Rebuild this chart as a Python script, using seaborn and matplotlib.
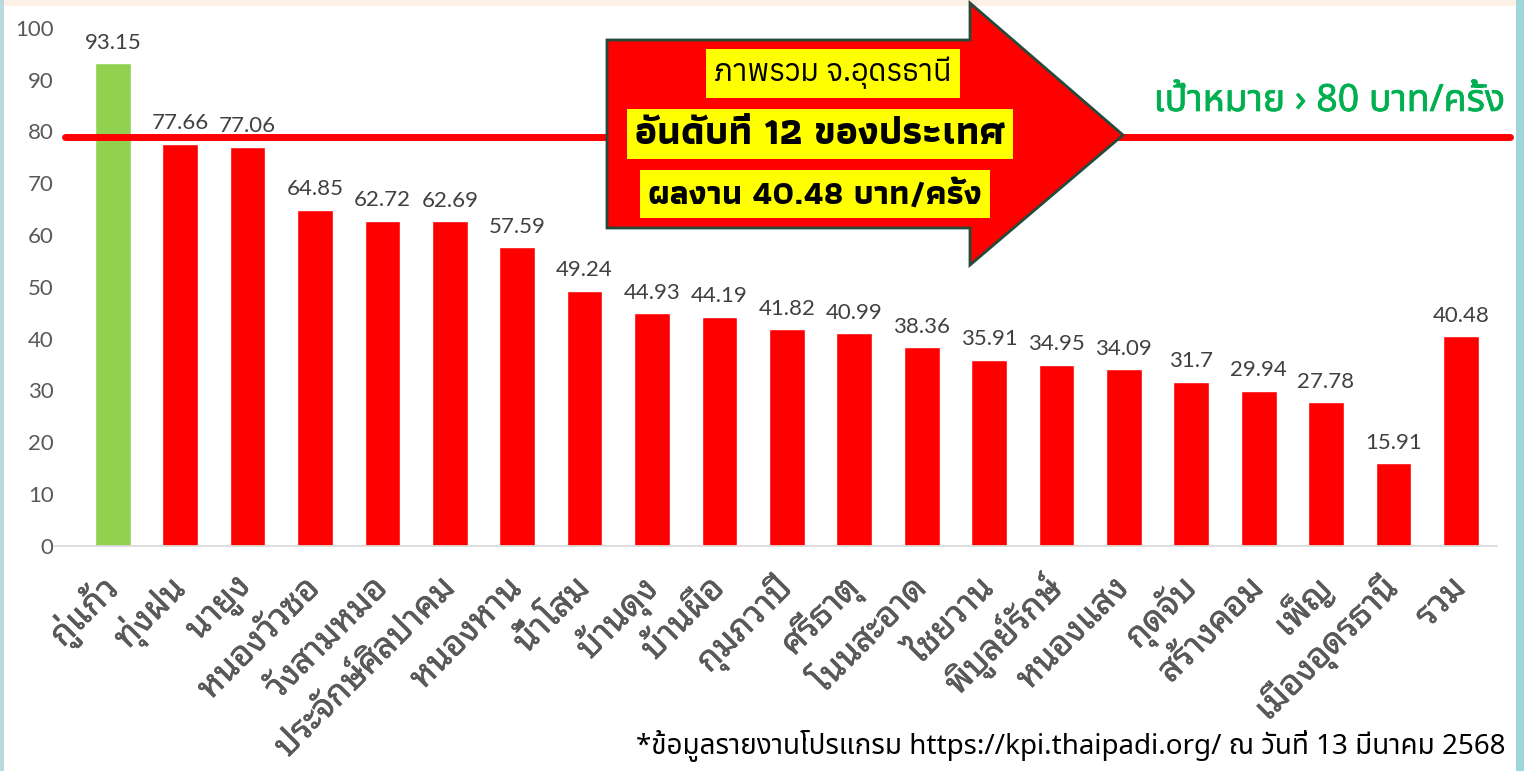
import matplotlib
matplotlib.use('Agg')
import matplotlib.pyplot as plt
from matplotlib.patches import Polygon, Rectangle
from matplotlib.transforms import ScaledTranslation
from matplotlib import patheffects
import seaborn as sns

districts = ['กู่แก้ว', 'ทุ่งฝน', 'นายูง', 'หนองวัวซอ', 'วังสามหมอ', 'ประจักษ์ศิลปาคม',
             'หนองหาน', 'น้ำโสม', 'บ้านดุง', 'บ้านผือ', 'กุมภวาปี', 'ศรีธาตุ',
             'โนนสะอาด', 'ไชยวาน', 'พิบูลย์รักษ์', 'หนองแสง', 'กุดจับ', 'สร้างคอม',
             'เพ็ญ', 'เมืองอุดรธานี', 'รวม']
values = [93.15, 77.66, 77.06, 64.85, 62.72, 62.69, 57.59, 49.24, 44.93, 44.19,
          41.82, 40.99, 38.36, 35.91, 34.95, 34.09, 31.7, 29.94, 27.78, 15.91, 40.48]
bar_colors = ['#92d050'] + ['#ff0000'] * 20
target_line = 79

sns.set_theme(style='white')
plt.rcParams['font.family'] = ['Noto Sans Thai Looped', 'Noto Sans', 'DejaVu Sans']
num_font = ['Lato', 'DejaVu Sans']
ui_font = ['Noto Sans Thai', 'Noto Sans', 'DejaVu Sans']

fig = plt.figure(figsize=(15.24, 7.71), dpi=100)
ax = fig.add_axes([0.036, 0.292, 0.946, 0.672])

sns.barplot(x=districts, y=values, hue=districts, palette=bar_colors, legend=False,
            width=0.53, saturation=1, ax=ax)
for c in ax.containers:
    ax.bar_label(c, fmt='%g', padding=7.5, fontsize=16, color='#404040', family=num_font)

ax.set_ylim(0, 100)
ax.set_xlim(-0.86, 20.53)
ax.set_yticks(range(0, 101, 10))
ax.tick_params(axis='y', labelsize=16, labelcolor='#595959', length=0, pad=1)
ax.tick_params(axis='x', labelsize=25, labelcolor='#595959', length=0, pad=14)
for t in ax.get_yticklabels():
    t.set_family(num_font)
shift = ScaledTranslation(0, -18 / 100, fig.dpi_scale_trans)
for t in ax.get_xticklabels():
    t.set_rotation(45)
    t.set_ha('right')
    t.set_va('center')
    t.set_rotation_mode('anchor')
    t.set_path_effects([patheffects.withStroke(linewidth=0.4, foreground='#595959')])
    t.set_transform(t.get_transform() + shift)
ax.set_xlabel('')
ax.set_ylabel('')
sns.despine(ax=ax, left=True)
ax.spines['bottom'].set_color('#d9d9d9')

ax.axhline(target_line, xmin=0.007, xmax=1.009, color='#ff0000', lw=5, clip_on=False, zorder=3)

# block arrow in figure pixels
W, H = 1524, 771
pts = [(607, 40), (970, 40), (970, 3), (1123, 135), (970, 265), (970, 228), (607, 228)]
arrow = Polygon([(x / W, 1 - y / H) for x, y in pts], closed=True, transform=fig.transFigure,
                facecolor='#ff0000', edgecolor='#234b3a', lw=2, zorder=5)
fig.patches.append(arrow)

fig.text(833 / W, 1 - 73 / H, 'ภาพรวม จ.อุดรธานี', fontsize=22, ha='center', va='center',
         color='black', zorder=6, family=['Anuphan', 'DejaVu Sans'],
         bbox=dict(facecolor='#ffff00', edgecolor='none', pad=6))
fig.text(820 / W, 1 - 134 / H, 'อันดับที่ 12 ของประเทศ', fontsize=28, fontweight='bold',
         ha='center', va='center', color='black', zorder=6, family=['Athiti', 'DejaVu Sans'],
         bbox=dict(facecolor='#ffff00', edgecolor='none', pad=6))
fig.text(815 / W, 1 - 194 / H, 'ผลงาน 40.48 บาท/ครั้ง', fontsize=24, fontweight='bold',
         ha='center', va='center', color='black', zorder=6, family=['Athiti', 'DejaVu Sans'],
         bbox=dict(facecolor='#ffff00', edgecolor='none', pad=6))

fig.text(1505 / W, 1 - 101 / H, 'เป้าหมาย › 80 บาท/ครั้ง', fontsize=27,
         ha='right', va='center', color='#00b050', family=ui_font,
         path_effects=[patheffects.withStroke(linewidth=0.5, foreground='#00b050')])

fig.text(1505 / W, 1 - 746 / H,
         '*ข้อมูลรายงานโปรแกรม https://kpi.thaipadi.org/ ณ วันที่ 13 มีนาคม 2568',
         fontsize=20, ha='right', va='center', color='black', family=ui_font)

# frame edges
fig.patches.append(Rectangle((0, 1 - 6 / H), 1, 6 / H, transform=fig.transFigure,
                             facecolor='#fdf0e4', edgecolor='none'))
fig.patches.append(Rectangle((0, 0), 4 / W, 1, transform=fig.transFigure,
                             facecolor='#b9dbe0', edgecolor='none'))
fig.patches.append(Rectangle((1 - 8 / W, 0), 8 / W, 1, transform=fig.transFigure,
                             facecolor='#9fd6dc', edgecolor='none'))

fig.savefig('out.png', dpi=100)
